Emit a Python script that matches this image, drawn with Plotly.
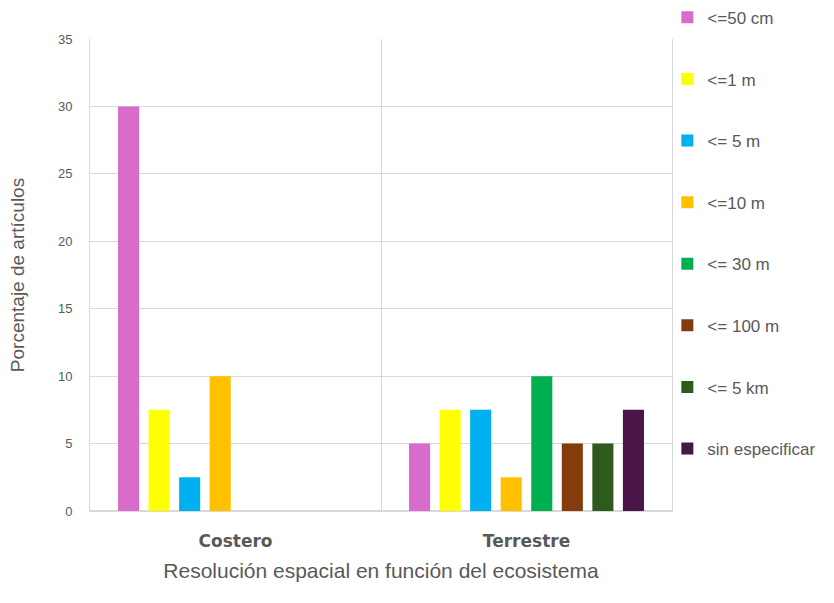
import plotly.graph_objects as go

categories = ["Costero", "Terrestre"]
series_names = ["<=50 cm", "<=1 m", "<= 5 m", "<=10 m", "<= 30 m", "<= 100 m", "<= 5 km", "sin especificar"]
series_values = [
    [30, 5],
    [7.5, 7.5],
    [2.5, 7.5],
    [10, 2.5],
    [0, 10],
    [0, 5],
    [0, 5],
    [0, 7.5],
]
colors = ["#D96BCB", "#FFFF00", "#00B0F0", "#FFC000", "#00B050", "#843C0C", "#2E5A1E", "#4A1548"]
y_ticks = [0, 5, 10, 15, 20, 25, 30, 35]

fig = go.Figure()
for i, (name, vals, col) in enumerate(zip(series_names, series_values, colors)):
    fig.add_trace(go.Bar(
        x=categories, y=vals, name=name, marker_color=col,
        marker_line_width=0, legendgroup=f"g{i}",
    ))

font_family = "Liberation Sans, Arial, sans-serif"
fig.update_layout(
    width=834, height=603,
    margin=dict(l=90, r=162, t=39, b=92, autoexpand=False),
    paper_bgcolor="white", plot_bgcolor="white",
    barmode="group", bargap=0.16, bargroupgap=0.31,
    font=dict(family=font_family, color="#595959"),
    showlegend=True,
    legend=dict(
        x=0.992, y=1.083, xanchor="left", yanchor="top",
        font=dict(size=17, color="#595959"),
        tracegroupgap=36.5, itemwidth=30, traceorder="grouped",
        bgcolor="rgba(0,0,0,0)", maxheight=600,
    ),
    xaxis=dict(
        showgrid=True, tickson="boundaries", gridcolor="#D9D9D9", gridwidth=1,
        ticks="", showline=True, linecolor="#D9D9D9",
        ticklabelstandoff=15,
        tickfont=dict(size=17, color="#595959", family="DejaVu Sans, sans-serif", weight="bold"),
        title=dict(text="Resolución espacial en función del ecosistema", font=dict(size=21, color="#595959"), standoff=12),
    ),
    yaxis=dict(
        range=[0, 35], tickvals=y_ticks, showgrid=True, gridcolor="#D9D9D9",
        zeroline=True, zerolinecolor="#D9D9D9", ticks="",
        showline=True, mirror=True, linecolor="#D9D9D9",
        ticklabelstandoff=14,
        tickfont=dict(size=13, color="#595959"),
        title=dict(text="Porcentaje de artículos", font=dict(size=19, color="#595959"), standoff=28),
    ),
)
fig.write_html("out.html")
